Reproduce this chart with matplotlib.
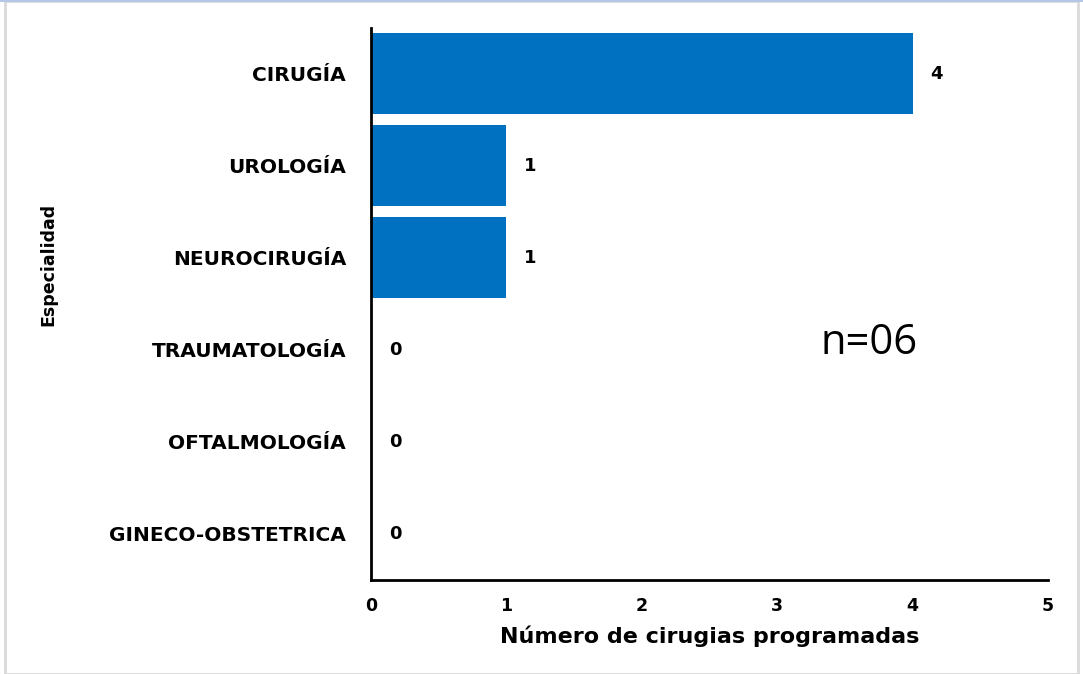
import numpy as np
import matplotlib.pyplot as plt
from matplotlib.patches import Rectangle

# Data
especialidades = ["CIRUGÍA", "UROLOGÍA", "NEUROCIRUGÍA", "TRAUMATOLOGÍA",
                  "OFTALMOLOGÍA", "GINECO-OBSTETRICA"]
cirugias = [4, 1, 1, 0, 0, 0]
x_ticks = [0, 1, 2, 3, 4, 5]

plt.rcParams['font.family'] = ['DejaVu Sans']

fig = plt.figure(figsize=(10.83, 6.74), dpi=100)
# thin page border like the screenshot
fig.patches.append(Rectangle((0.005, 0.0), 0.99, 0.998, transform=fig.transFigure,
                             fill=False, edgecolor='#d9d9d9', linewidth=2))
fig.patches.append(Rectangle((0.0, 0.997), 1.0, 0.003, transform=fig.transFigure,
                             color='#b4c7e7', linewidth=0))

ax = fig.add_axes([0.3426, 0.1395, 0.6251, 0.819])

y = np.arange(len(especialidades))
ax.barh(y, cirugias, height=0.88, color='#0070C0')

# value labels
for yi, v in zip(y, cirugias):
    ax.annotate(str(v), (v, yi), xytext=(18, 0), textcoords='offset pixels',
                ha='left', va='center', fontsize=13, fontweight='bold')

ax.set_ylim(len(especialidades) - 0.5, -0.5)
ax.set_xlim(0, 5)
ax.set_yticks(y)
ax.set_yticklabels(especialidades, fontsize=14.5, fontweight='bold')
ax.set_xticks(x_ticks)
ax.set_xticklabels([str(t) for t in x_ticks], fontsize=12.5, fontweight='bold')
ax.tick_params(axis='both', length=0)
ax.tick_params(axis='y', pad=18)
ax.tick_params(axis='x', pad=12)

for s in ['top', 'right']:
    ax.spines[s].set_visible(False)
for s in ['left', 'bottom']:
    ax.spines[s].set_linewidth(2)
    ax.spines[s].set_color('black')

ax.set_xlabel("Número de cirugias programadas", fontsize=16, fontweight='bold',
              labelpad=8)
fig.text(0.045, 0.607, "Especialidad", rotation=90, ha='center', va='center',
         fontsize=12.5, fontweight='bold',
         family=['Liberation Sans Narrow', 'DejaVu Sans'])

ax.text(3.32, 2.92, "n=06", fontsize=30, ha='left', va='center',
        family=['Open Sans', 'DejaVu Sans'])

plt.savefig("out.png", dpi=100)
